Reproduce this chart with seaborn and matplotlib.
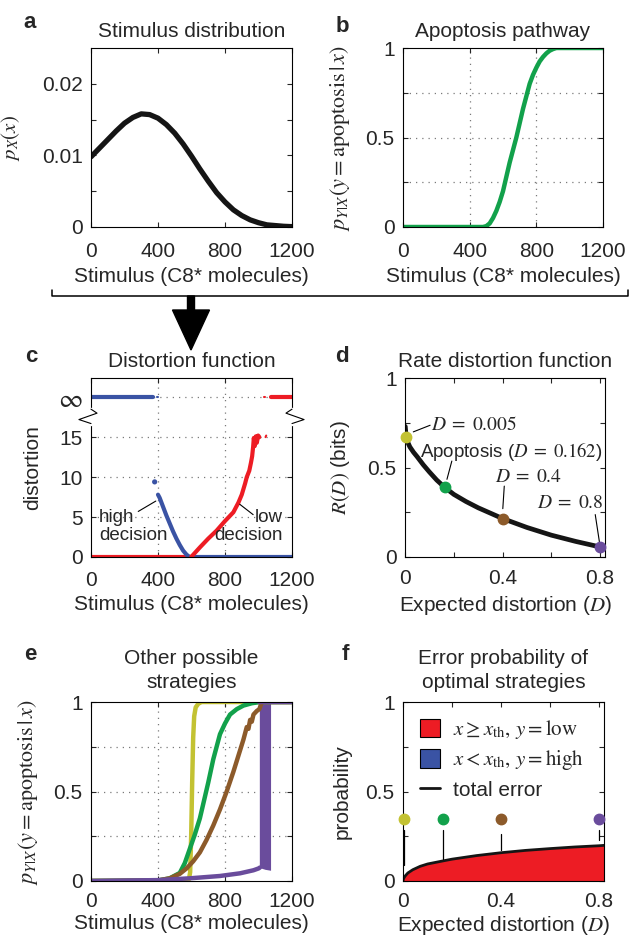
import numpy as np
import pandas as pd
import matplotlib
matplotlib.use("Agg")
import matplotlib.pyplot as plt
from matplotlib.patches import Patch, FancyArrow
from matplotlib.lines import Line2D
from matplotlib.ticker import MultipleLocator, FixedLocator
import seaborn as sns

RED = '#ED1C24'
BLUE = '#3A53A4'
GREEN = '#12A14B'
YELLOW = '#C3C232'
BROWN = '#8C5A2A'
PURPLE = '#6A4C9C'
BLACK = '#151515'
GRIDC = '#7a7a7a'

# a: stimulus distribution
stim_x = [0, 50, 100, 150, 200, 250, 300, 350, 400, 450, 500, 550, 600,
          650, 700, 750, 800, 850, 900, 950, 1000, 1050, 1100, 1150, 1200]
stim_p = [0.0098, 0.0110, 0.0122, 0.0134, 0.0145, 0.0153, 0.0158, 0.0157,
          0.0152, 0.0143, 0.0131, 0.0116, 0.0099, 0.0081, 0.0064, 0.0048,
          0.0035, 0.0024, 0.0016, 0.0010, 0.0006, 0.0003, 0.0002, 0.0001,
          0.00005]

# b: apoptosis pathway
apop_x = [0, 480, 500, 520, 540, 560, 580, 600, 620, 640, 660, 680, 700, 720,
          740, 760, 780, 800, 820, 840, 860, 880, 900, 920, 1200]
apop_p = [0, 0, 0.005, 0.02, 0.05, 0.09, 0.14, 0.2, 0.28, 0.36, 0.43, 0.5,
          0.58, 0.66, 0.73, 0.8, 0.85, 0.89, 0.925, 0.95, 0.97, 0.985, 0.994,
          1.0, 1.0]

# c: distortion function (infinity drawn at 20)
INF = 20
red_zero_x = [0, 595]
blue_zero_x = [590, 1200]
blue_x = [400, 410, 430, 450, 470, 490, 510, 530, 550, 570, 588]
blue_d = [7.8, 7.4, 6.3, 5.2, 4.2, 3.2, 2.3, 1.5, 0.8, 0.3, 0.0]
blue_dot = (380, 9.4)
red_x = [598, 650, 700, 750, 800, 850, 880, 900, 920, 930, 945, 955, 962,
         968, 972, 978, 984, 990, 998, 1005]
red_d = [0.0, 1.2, 2.3, 3.3, 4.5, 5.6, 6.8, 7.8, 9.2, 10.0, 10.8, 11.8, 12.6,
         13.8, 14.9, 13.9, 15.1, 14.3, 15.2, 15.0]
red_tail_x = [1042, 1046]
red_tail_d = [15.0, 15.2]
blue_inf_x = [0, 370]
blue_inf_dash = [392, 398]
red_inf_dash = [1034, 1040]
red_inf_x = [1074, 1200]

# d: rate distortion function
rd_D = [0.001, 0.005, 0.01, 0.02, 0.035, 0.05, 0.075, 0.1, 0.13, 0.162, 0.2,
        0.25, 0.3, 0.35, 0.4, 0.5, 0.6, 0.7, 0.8, 0.81]
rd_R = [0.73, 0.67, 0.645, 0.615, 0.585, 0.56, 0.515, 0.475, 0.43, 0.39,
        0.35, 0.31, 0.275, 0.245, 0.215, 0.165, 0.122, 0.087, 0.056, 0.053]
pt_D = [0.005, 0.162, 0.4, 0.8]
pt_R = [0.671, 0.39, 0.215, 0.056]
pt_colors = [YELLOW, GREEN, BROWN, PURPLE]

# e: other strategies
yel_x = [0, 570, 585, 592, 598, 604, 610, 616, 625, 640, 660, 1200]
yel_p = [0, 0, 0.01, 0.05, 0.25, 0.55, 0.8, 0.92, 0.97, 0.99, 1.0, 1.0]
grn_x = [0, 400, 470, 530, 560, 590, 620, 650, 675, 700, 730, 770, 800, 830,
         870, 910, 960, 1010, 1200]
grn_p = [0, 0.003, 0.015, 0.045, 0.1, 0.18, 0.26, 0.35, 0.45, 0.55, 0.68,
         0.82, 0.88, 0.93, 0.96, 0.98, 0.993, 1.0, 1.0]
brn_x = [0, 400, 470, 530, 570, 610, 650, 690, 730, 770, 810, 850, 880, 910,
         930, 940, 950, 960, 970, 990, 1005, 1020, 1200]
brn_p = [0, 0.003, 0.015, 0.04, 0.07, 0.11, 0.16, 0.23, 0.31, 0.40, 0.5, 0.61,
         0.70, 0.79, 0.86, 0.85, 0.9, 0.89, 0.93, 0.95, 0.96, 1.0, 1.0]
pur_x = [0, 400, 590, 770, 890, 970, 1000, 1008]
pur_p = [0, 0.005, 0.015, 0.028, 0.043, 0.06, 0.07, 0.075]
pur_band_x = [1005, 1040, 1072]
pur_band_lo = [0.075, 0.065, 0.06]
pur_top_x = [1005, 1200]

# f: error probability
err_D = [0, 0.002, 0.005, 0.01, 0.02, 0.04, 0.07, 0.1, 0.162, 0.2, 0.3, 0.4,
         0.5, 0.6, 0.7, 0.8, 0.82]
err_tot = [0, 0.012, 0.02, 0.03, 0.045, 0.063, 0.082, 0.095, 0.112, 0.122,
           0.142, 0.158, 0.171, 0.181, 0.19, 0.197, 0.199]
err_blue_D = [0.02, 0.1, 0.3, 0.45]
err_blue = [0.002, 0.003, 0.003, 0.001]
dot_y = 0.345
ptr_top = [0.283, 0.283, 0.264, 0.283]
ptr_bot = [0.088, 0.125, 0.171, 0.227]

sns.set_style('ticks')
plt.rcParams['font.family'] = ['Liberation Sans', 'DejaVu Sans']
plt.rcParams['mathtext.fontset'] = 'stix'
FS = 15
FA = 13.5   # annotation size

W, H = 629, 939
fig = plt.figure(figsize=(W / 100, H / 100), dpi=100)


def add_ax(left, top, w=201, h=179):
    return fig.add_axes([left / W, 1 - (top + h) / H, w / W, h / H])


def style(ax, xpad=11):
    for s in ax.spines.values():
        s.set_linewidth(0.8)
        s.set_color('black')
        s.set_visible(True)
    ax.tick_params(which='both', direction='in', top=True, right=True,
                   length=3.5, width=0.8, labelsize=FS, pad=6)
    ax.tick_params(axis='x', which='both', pad=xpad)


def dgrid(ax, xs, ys):
    for x in xs:
        ax.axvline(x, color=GRIDC, lw=0.9, ls=(0, (1, 4)), zorder=0)
    for y in ys:
        ax.axhline(y, color=GRIDC, lw=0.9, ls=(0, (1, 4)), zorder=0)


stim_label = 'Stimulus (C8* molecules)'
apop_ylabel = r'$p_{Y|X}(y = \mathrm{apoptosis}\,|\,x)$'

# ---- a
ax = add_ax(91, 48)
sns.lineplot(x=stim_x, y=stim_p, ax=ax, color=BLACK, lw=3.8)
ax.set_xlim(0, 1200)
ax.set_ylim(0, 0.025)
ax.xaxis.set_major_locator(MultipleLocator(400))
ax.yaxis.set_major_locator(FixedLocator([0, 0.01, 0.02]))
ax.yaxis.set_minor_locator(FixedLocator([0.005, 0.015]))
ax.set_yticklabels(['0', '0.01', '0.02'])
ax.set_title('Stimulus distribution', fontsize=FS, pad=8)
ax.set_xlabel(stim_label, fontsize=FS)
ax.set_ylabel(r'$p_X(x)$', fontsize=FS)
style(ax)
ax.yaxis.set_label_coords(-0.345, 0.5)

# ---- b
ax = add_ax(403, 48, w=200)
dgrid(ax, [400, 800], [0.25, 0.5, 0.75])
sns.lineplot(x=apop_x, y=apop_p, ax=ax, color=GREEN, lw=3.2)
ax.set_xlim(0, 1200)
ax.set_ylim(0, 1)
ax.xaxis.set_major_locator(MultipleLocator(400))
ax.yaxis.set_major_locator(FixedLocator([0, 0.5, 1]))
ax.yaxis.set_minor_locator(FixedLocator([0.25, 0.75]))
ax.set_yticklabels(['0', '0.5', '1'])
ax.set_title('Apoptosis pathway', fontsize=FS, pad=8)
ax.set_xlabel(stim_label, fontsize=FS)
ax.set_ylabel(apop_ylabel, fontsize=FS + 1)
style(ax)
ax.yaxis.set_label_coords(-0.255, 0.5)

# ---- c
ax = add_ax(91, 378)
dgrid(ax, [400, 800], [5, 10, 15, INF])
lw_c = 3.0
sns.lineplot(x=red_zero_x, y=[0, 0], ax=ax, color=RED, lw=lw_c)
sns.lineplot(x=blue_zero_x, y=[0, 0], ax=ax, color=BLUE, lw=lw_c)
sns.lineplot(x=blue_x, y=blue_d, ax=ax, color=BLUE, lw=lw_c)
sns.lineplot(x=red_x, y=red_d, ax=ax, color=RED, lw=lw_c)
sns.lineplot(x=red_tail_x, y=red_tail_d, ax=ax, color=RED, lw=1.5)
sns.scatterplot(x=[blue_dot[0]], y=[blue_dot[1]], ax=ax, color=BLUE, s=14,
                edgecolor='none')
for xs, c, lw in [(blue_inf_x, BLUE, lw_c), (blue_inf_dash, BLUE, 1.5),
                  (red_inf_dash, RED, 1.5), (red_inf_x, RED, lw_c)]:
    sns.lineplot(x=xs, y=[INF, INF], ax=ax, color=c, lw=lw)
ax.set_xlim(0, 1200)
ax.set_ylim(0, 22.4)
ax.xaxis.set_major_locator(MultipleLocator(400))
ax.yaxis.set_major_locator(FixedLocator([0, 5, 10, 15, INF]))
ax.set_yticklabels(['0', '5', '10', '15', r'$\infty$'])
ax.set_title('Distortion function', fontsize=FS, pad=8)
ax.set_xlabel(stim_label, fontsize=FS)
ax.set_ylabel('distortion', fontsize=FS)
style(ax, xpad=10)
ax.get_yticklabels()[-1].set_fontsize(19)
ax.yaxis.set_label_coords(-0.245, 0.5)
ax.text(48, 3.8, 'high\ndecision', fontsize=FA, ha='left', va='center',
        linespacing=1.1)
ax.text(1142, 3.8, 'low\ndecision', fontsize=FA, ha='right', va='center',
        linespacing=1.1)
ax.plot([282, 387], [5.7, 7.0], color='black', lw=0.8)
ax.plot([888, 968], [6.6, 5.3], color='black', lw=0.8)
# axis break marks
yt = ax.get_yaxis_transform()
for x0, sgn in [(0, -1), (1, 1)]:
    ax.plot([x0, x0], [16.7, 18.5], color='white', lw=2.5, transform=yt,
            clip_on=False, zorder=5)
    ax.plot([x0, x0 - sgn * 0.03, x0 + sgn * 0.06, x0],
            [18.5, 18.0, 17.2, 16.7], color='black', lw=0.8, transform=yt,
            clip_on=False, zorder=6)

# ---- d
ax = add_ax(405, 378, w=200)
sns.lineplot(x=rd_D, y=rd_R, ax=ax, color=BLACK, lw=3.4)
for d, r, c in zip(pt_D, pt_R, pt_colors):
    ax.plot([d], [r], 'o', color=c, ms=7.5, clip_on=False, zorder=5)
ax.set_xlim(0, 0.82)
ax.set_ylim(0, 1)
ax.xaxis.set_major_locator(FixedLocator([0, 0.4, 0.8]))
ax.xaxis.set_minor_locator(FixedLocator([0.2, 0.6]))
ax.set_xticklabels(['0', '0.4', '0.8'])
ax.yaxis.set_major_locator(FixedLocator([0, 0.5, 1]))
ax.yaxis.set_minor_locator(FixedLocator([0.25, 0.75]))
ax.set_yticklabels(['0', '0.5', '1'])
ax.set_title('Rate distortion function', fontsize=FS, pad=8)
ax.set_xlabel('Expected distortion ($D$)', fontsize=FS)
ax.set_ylabel('$R(D)$ (bits)', fontsize=FS)
style(ax, xpad=9)
ax.yaxis.set_label_coords(-0.265, 0.5)
ax.text(0.108, 0.738, r'$D\;=\;0.005$', fontsize=FA + 0.5, ha='left',
        va='center')
ax.plot([0.034, 0.103], [0.699, 0.736], color='black', lw=0.8)
ax.text(0.435, 0.59, r'Apoptosis ($D\;=\;0.162$)', fontsize=FA, ha='center',
        va='center')
ax.plot([0.192, 0.172], [0.536, 0.434], color='black', lw=0.8)
ax.text(0.506, 0.443, r'$D\;=\;0.4$', fontsize=FA + 0.5, ha='center',
        va='center')
ax.plot([0.407, 0.401], [0.396, 0.27], color='black', lw=0.8)
ax.text(0.679, 0.297, r'$D\;=\;0.8$', fontsize=FA + 0.5, ha='center',
        va='center')
ax.plot([0.78, 0.797], [0.237, 0.085], color='black', lw=0.8)

# ---- e
ax = add_ax(91, 702)
dgrid(ax, [400, 800], [0.25, 0.5, 0.75])
sns.lineplot(x=yel_x, y=yel_p, ax=ax, color=YELLOW, lw=3.2)
sns.lineplot(x=grn_x, y=grn_p, ax=ax, color=GREEN, lw=3.2)
sns.lineplot(x=brn_x, y=brn_p, ax=ax, color=BROWN, lw=3.2)
sns.lineplot(x=pur_x, y=pur_p, ax=ax, color=PURPLE, lw=3.2)
ax.fill_between(pur_band_x, pur_band_lo, [1, 1, 1], color=PURPLE, lw=0)
sns.lineplot(x=pur_top_x, y=[1, 1], ax=ax, color=PURPLE, lw=3.2)
ax.set_xlim(0, 1200)
ax.set_ylim(0, 1)
ax.xaxis.set_major_locator(MultipleLocator(400))
ax.yaxis.set_major_locator(FixedLocator([0, 0.5, 1]))
ax.yaxis.set_minor_locator(FixedLocator([0.25, 0.75]))
ax.set_yticklabels(['0', '0.5', '1'])
ax.set_title('Other possible\nstrategies', fontsize=FS, pad=10,
             linespacing=1.35)
ax.set_xlabel(stim_label, fontsize=FS, labelpad=2)
ax.set_ylabel(apop_ylabel, fontsize=FS + 1)
style(ax, xpad=8)
ax.yaxis.set_label_coords(-0.255, 0.5)

# ---- f
ax = add_ax(403, 702)
ax.fill_between(err_D, 0, err_tot, color=RED, lw=0)
ax.fill_between(err_blue_D, 0, err_blue, color=BLUE, lw=0)
sns.lineplot(x=err_D, y=err_tot, ax=ax, color=BLACK, lw=2.0)
for d, t, b, c in zip(pt_D, ptr_top, ptr_bot, pt_colors):
    ax.plot([d, d], [b, t], color='black', lw=0.9)
    ax.plot([d], [dot_y], 'o', color=c, ms=7.5, clip_on=False, zorder=5)
ax.set_xlim(0, 0.82)
ax.set_ylim(0, 1)
ax.xaxis.set_major_locator(FixedLocator([0, 0.4, 0.8]))
ax.xaxis.set_minor_locator(FixedLocator([0.2, 0.6]))
ax.set_xticklabels(['0', '0.4', '0.8'])
ax.yaxis.set_major_locator(FixedLocator([0, 0.5, 1]))
ax.yaxis.set_minor_locator(FixedLocator([0.25, 0.75]))
ax.set_yticklabels(['0', '0.5', '1'])
ax.set_title('Error probability of\noptimal strategies', fontsize=FS, pad=10,
             linespacing=1.35)
ax.set_xlabel('Expected distortion ($D$)', fontsize=FS, labelpad=2)
ax.set_ylabel('probability', fontsize=FS)
style(ax, xpad=8)
ax.yaxis.set_label_coords(-0.255, 0.5)
handles = [Patch(facecolor=RED, edgecolor='black', lw=0.8),
           Patch(facecolor=BLUE, edgecolor='black', lw=0.8),
           Line2D([], [], color=BLACK, lw=2.0)]
labels = [r'$x \geq x_{\mathrm{th}},\, y = \mathrm{low}$',
          r'$x < x_{\mathrm{th}},\, y = \mathrm{high}$',
          'total error']
ax.legend(handles, labels, loc='upper left', bbox_to_anchor=(0.02, 0.98),
          frameon=False, fontsize=FS, handlelength=1.0, handleheight=1.0,
          handletextpad=0.6, labelspacing=0.35, borderaxespad=0.2)

# panel letters
for letter, px, py in [('a', 30, 23), ('b', 342, 26), ('c', 31, 357),
                       ('d', 342, 356), ('e', 30, 655), ('f', 345, 654)]:
    fig.text(px / W, 1 - py / H, letter, fontsize=16, fontweight='bold',
             ha='center', va='center')

# bracket and arrow between rows
fig.add_artist(Line2D([52 / W, 52 / W, 628 / W, 628 / W],
                      [1 - 290 / H, 1 - 296 / H, 1 - 296 / H, 1 - 290 / H],
                      color='black', lw=1.1))
fig.add_artist(FancyArrow(1.91, (H - 296) / 100, 0, -0.54, width=0.07,
                          head_width=0.37, head_length=0.40,
                          length_includes_head=True, color='black',
                          transform=fig.dpi_scale_trans))

fig.savefig('out.png', dpi=100)
